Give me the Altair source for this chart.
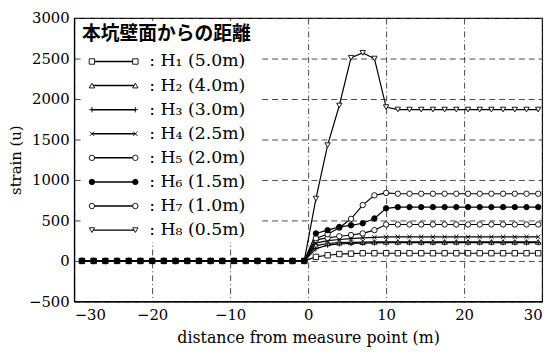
import altair as alt
import pandas as pd

# measurement positions (m)
DIST = [-29, -27.5, -26, -24.5, -23, -21.5, -20, -18.5, -17, -15.5,
        -14, -12.5, -11, -9.5, -8, -6.5, -5, -3.5, -2, -0.5,
        1, 2.5, 4, 5.5, 7, 8.5, 10, 11.5, 13, 14.5,
        16, 17.5, 19, 20.5, 22, 23.5, 25, 26.5, 28, 29.5]

PRE = [0, 0, 0, 0, 0, 0, 0, 0, 0, 0, 0, 0, 0, 0, 0, 0, 0, 0, 0, 0]

H1 = PRE + [50, 70, 85, 90, 95, 95, 95, 95, 95, 95, 95, 95, 95, 95, 95, 95, 95, 95, 95, 95]
H2 = PRE + [190, 215, 225, 230, 232, 235, 235, 235, 235, 235, 235, 235, 235, 235, 235, 235, 235, 235, 235, 235]
H3 = PRE + [150, 195, 210, 215, 220, 222, 225, 225, 225, 225, 225, 225, 225, 225, 225, 225, 225, 225, 225, 225]
H4 = PRE + [220, 250, 265, 275, 285, 292, 298, 298, 298, 298, 298, 298, 298, 298, 298, 298, 298, 298, 298, 298]
H5 = PRE + [260, 285, 305, 320, 340, 380, 450, 450, 450, 450, 450, 450, 450, 450, 450, 450, 450, 450, 450, 450]
H6 = PRE + [340, 380, 420, 440, 465, 525, 650, 665, 665, 665, 665, 665, 665, 665, 665, 665, 665, 665, 665, 665]
H7 = PRE + [280, 330, 410, 520, 690, 810, 840, 830, 830, 830, 830, 830, 830, 830, 830, 830, 830, 830, 830, 830]
H8 = PRE + [770, 1430, 1920, 2510, 2570, 2500, 1900, 1870, 1870, 1870, 1870, 1870, 1870, 1870, 1870, 1870, 1870, 1870, 1870, 1870]

SERIES = ["H1", "H2", "H3", "H4", "H5", "H6", "H7", "H8"]
VALUES = [H1, H2, H3, H4, H5, H6, H7, H8]
LABELS = [": H\u2081 (5.0m)", ": H\u2082 (4.0m)", ": H\u2083 (3.0m)", ": H\u2084 (2.5m)",
          ": H\u2085 (2.0m)", ": H\u2086 (1.5m)", ": H\u2087 (1.0m)", ": H\u2088 (0.5m)"]
LEGEND_TITLE = "本坑壁面からの距離"

X_TICKS = [-30, -20, -10, 0, 10, 20, 30]
Y_TICKS = [-500, 0, 500, 1000, 1500, 2000, 2500, 3000]

# styles
SHAPES = ["square", "triangle-up", "M-1,0L1,0M0,-1L0,1", "M-0.8,-0.8L0.8,0.8M-0.8,0.8L0.8,-0.8",
          "circle", "circle", "circle", "triangle-down"]
FILLS = ["white", "white", "white", "white", "white", "black", "white", "white"]
SERIF = "DejaVu Serif"

rows = []
for s, vals in zip(SERIES, VALUES):
    for d, v in zip(DIST, vals):
        rows.append({"series": s, "dist": d, "strain": v})
df = pd.DataFrame(rows)
# draw H6 markers last so the filled dots sit on top
order = {s: i for i, s in enumerate(["H1", "H2", "H3", "H4", "H5", "H7", "H8", "H6"])}
df["ord"] = df["series"].map(order)
df = df.sort_values(["ord", "dist"]).reset_index(drop=True)

shape_enc = alt.Shape("series:N", scale=alt.Scale(domain=SERIES, range=SHAPES), legend=None)
fill_enc = alt.Fill("series:N", scale=alt.Scale(domain=SERIES, range=FILLS), legend=None)

x_enc = alt.X("dist:Q", scale=alt.Scale(domain=[-30, 30], nice=False),
              axis=alt.Axis(values=X_TICKS, title="distance from measure point (m)", format="d",
                            grid=True, gridDash=[6, 3, 1, 3], gridColor="#333333", gridWidth=0.9,
                            ticks=False, labelPadding=6, titlePadding=8, titleFontSize=16))
y_enc = alt.Y("strain:Q", scale=alt.Scale(domain=[-500, 3000], nice=False),
              axis=alt.Axis(values=Y_TICKS, title="strain (u)", format="d",
                            grid=True, gridDash=[6, 4], gridColor="#333333", gridWidth=0.9,
                            ticks=False, labelPadding=5, titlePadding=5))

lines = alt.Chart(df).mark_line(color="black", strokeWidth=1.2).encode(
    x=x_enc, y=y_enc, detail="series:N", order="dist:Q")
points = alt.Chart(df).mark_point(filled=True, stroke="black", strokeWidth=0.9, size=30, opacity=1).encode(
    x="dist:Q", y="strain:Q", shape=shape_enc, fill=fill_enc)

# legend (pixel layout inside plot area)
LEG_Y0, LEG_STEP = 44, 24.4
leg = pd.DataFrame({"series": SERIES, "label": LABELS,
                    "py": [LEG_Y0 + i * LEG_STEP for i in range(len(SERIES))]})

bg = alt.Chart(pd.DataFrame({"k": [0]})).mark_rect(fill="white").encode(
    x=alt.value(10), x2=alt.value(188), y=alt.value(3), y2=alt.value(227))
leg_title = alt.Chart(pd.DataFrame({"t": [LEGEND_TITLE]})).mark_text(
    align="left", baseline="middle", font="Noto Sans CJK JP", fontSize=19, fontWeight="bold", color="black"
).encode(x=alt.value(8), y=alt.value(16), text="t:N")
leg_rule = alt.Chart(leg).mark_rule(color="black", strokeWidth=1.5).encode(
    x=alt.value(18), x2=alt.value(62), y=alt.Y("py:Q", scale=None))
leg_p1 = alt.Chart(leg).mark_point(filled=True, stroke="black", strokeWidth=0.9, size=30, opacity=1).encode(
    x=alt.value(18), y=alt.Y("py:Q", scale=None), shape=shape_enc, fill=fill_enc)
leg_p2 = alt.Chart(leg).mark_point(filled=True, stroke="black", strokeWidth=0.9, size=30, opacity=1).encode(
    x=alt.value(62), y=alt.Y("py:Q", scale=None), shape=shape_enc, fill=fill_enc)
leg_txt = alt.Chart(leg).mark_text(align="left", baseline="middle", font=SERIF, fontSize=17.5, color="black").encode(
    x=alt.value(76), y=alt.Y("py:Q", scale=None), text="label:N")

chart = alt.layer(lines, points, bg, leg_title, leg_rule, leg_p1, leg_p2, leg_txt).properties(
    width=474, height=287,
    autosize=alt.AutoSizeParams(type="none"),
    padding={"left": 67, "top": 8, "right": 8, "bottom": 45},
    background="white",
).configure_view(stroke="black", strokeWidth=1.2).configure_axis(
    labelFont=SERIF, labelFontSize=15, labelColor="black",
    titleFont=SERIF, titleFontSize=15, titleFontWeight="normal", titleColor="black",
    domainColor="black", domainWidth=1.2,
)

chart.save("out.html", embed_options={"renderer": "svg", "actions": False})
